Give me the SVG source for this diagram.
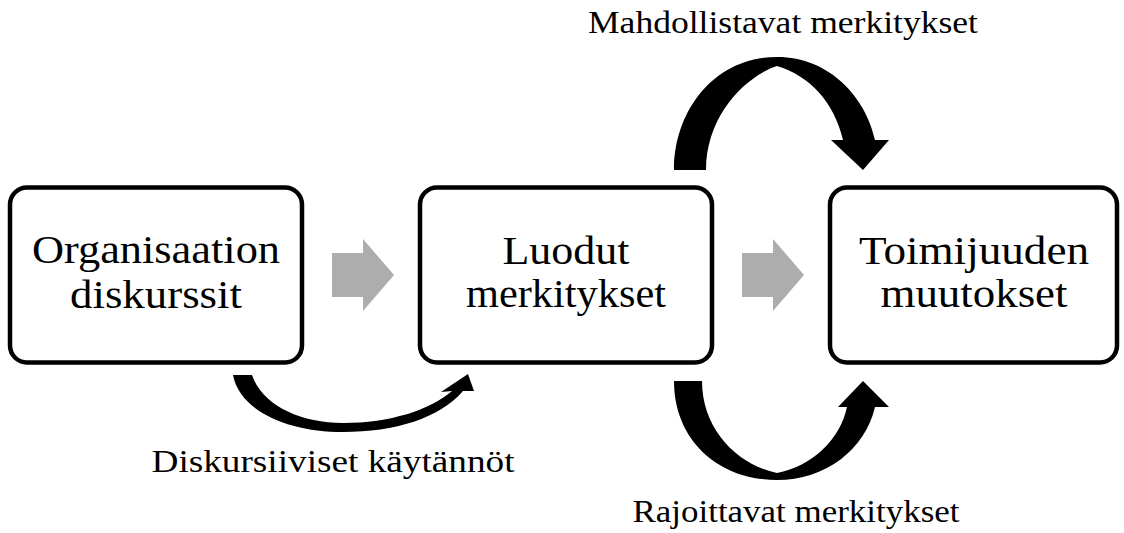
<svg xmlns="http://www.w3.org/2000/svg" width="1124" height="533" viewBox="0 0 1124 533">
<style>
.box{fill:#fff;stroke:#000;stroke-width:4.5}
.t{font-family:"Liberation Serif","Times New Roman",serif;fill:#000;text-anchor:middle}
.big{font-size:41px}
.lab{font-size:32px}
.gray{fill:#adadad}
.curve{fill:#000}
</style>
<rect width="1124" height="533" fill="#fff"/>
<g id="node-organisaation">
<rect class="box" x="10" y="187.5" width="292" height="175" rx="17"/>
<text class="t big" x="156" y="263" textLength="248" lengthAdjust="spacingAndGlyphs">Organisaation</text>
<text class="t big" x="156" y="308" textLength="172" lengthAdjust="spacingAndGlyphs">diskurssit</text>
</g>
<g id="node-luodut">
<rect class="box" x="420" y="187.5" width="292" height="175" rx="17"/>
<text class="t big" x="566" y="264" textLength="127" lengthAdjust="spacingAndGlyphs">Luodut</text>
<text class="t big" x="566" y="307" textLength="200" lengthAdjust="spacingAndGlyphs">merkitykset</text>
</g>
<g id="node-toimijuuden">
<rect class="box" x="830" y="187.5" width="287" height="175" rx="17"/>
<text class="t big" x="974" y="264" textLength="230" lengthAdjust="spacingAndGlyphs">Toimijuuden</text>
<text class="t big" x="974" y="307" textLength="187" lengthAdjust="spacingAndGlyphs">muutokset</text>
</g>
<g id="connectors">
<polygon class="gray" points="332,253 363,253 363,239 394,275 363,311 363,297 332,297"/>
<polygon class="gray" points="742,253 773,253 773,239 804,275 773,311 773,297 742,297"/>
<path class="curve" d="M674 170 C674 110 715 57 777 57 C830 57 866 98 875 140 L889 140 L863 170 L831 140 L843 140 C834 102 810 76 777 66 C746 76 706 115 706 170 Z"/>
<path class="curve" d="M674 381 L702 381 C702 430 738 465 777 473 C812 466 840 440 847 407 L838 407 L863 381 L889 407 L875 407 C865 450 825 480 777 480 C718 480 674 440 674 381 Z"/>
<path class="curve" d="M233 375 L252 375 C262 405 300 423 343 423 C390 423 430 410 452 391 L441 392 L468 374 L474 391 L463 391 C440 418 395 432 343 432 C290 432 240 412 233 375 Z"/>
</g>
<g id="labels">
<text class="t lab" x="783" y="33" textLength="390" lengthAdjust="spacingAndGlyphs">Mahdollistavat merkitykset</text>
<text class="t lab" x="333" y="472" textLength="363" lengthAdjust="spacingAndGlyphs">Diskursiiviset käytännöt</text>
<text class="t lab" x="796" y="522" textLength="327" lengthAdjust="spacingAndGlyphs">Rajoittavat merkitykset</text>
</g>
</svg>
